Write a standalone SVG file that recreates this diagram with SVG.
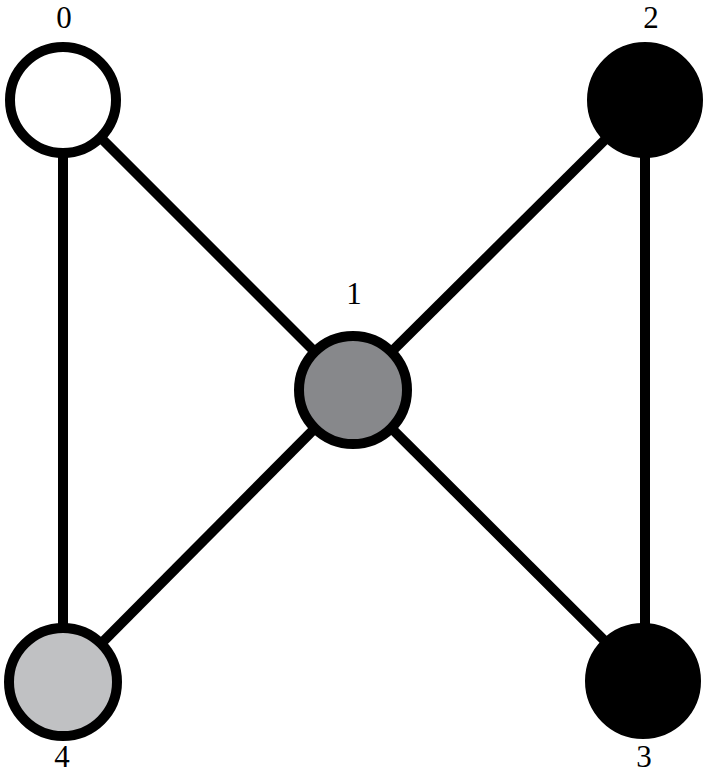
<svg xmlns="http://www.w3.org/2000/svg" width="706" height="775" viewBox="0 0 706 775">
<style>
.edge{stroke:#000;stroke-width:10;fill:none}
.node{stroke:#000;stroke-width:10}
.lbl{font-family:"Liberation Serif","DejaVu Serif",serif;font-size:31px;fill:#000;text-anchor:middle}
</style>
<rect width="706" height="775" fill="#fff"/>
<g id="edges">
<line class="edge" x1="63" y1="100" x2="63" y2="682"/>
<line class="edge" x1="645" y1="100" x2="645" y2="681"/>
<line class="edge" x1="63" y1="100" x2="353" y2="390"/>
<line class="edge" x1="645" y1="100" x2="353" y2="390"/>
<line class="edge" x1="353" y1="390" x2="645" y2="681"/>
<line class="edge" x1="353" y1="390" x2="63" y2="682"/>
</g>
<g id="node0"><circle class="node" cx="63" cy="100" r="53" fill="#fff"/><text class="lbl" x="64" y="28">0</text></g>
<g id="node1"><circle class="node" cx="353" cy="390" r="54" fill="#87888b"/><text class="lbl" x="354" y="304">1</text></g>
<g id="node2"><circle class="node" cx="645" cy="100" r="53" fill="#000"/><text class="lbl" x="651" y="28">2</text></g>
<g id="node3"><circle class="node" cx="643" cy="681" r="53" fill="#000"/><text class="lbl" x="644" y="767">3</text></g>
<g id="node4"><circle class="node" cx="63" cy="682" r="54" fill="#c0c1c3"/><text class="lbl" x="62" y="767">4</text></g>
</svg>
